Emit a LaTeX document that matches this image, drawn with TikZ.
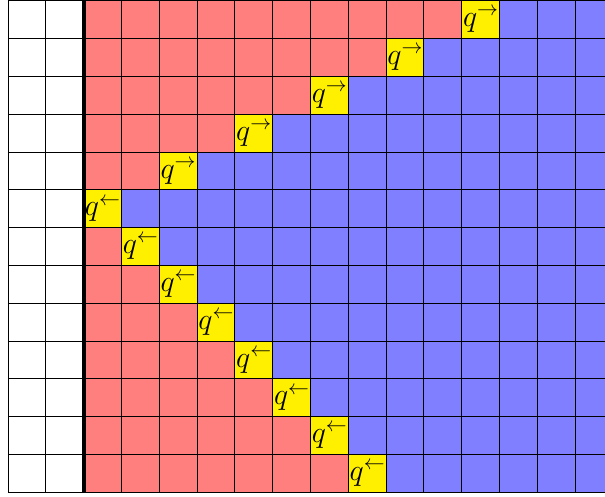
\documentclass[tikz,border=0pt]{standalone}
\usepackage{graphicx}
\definecolor{cellred}{RGB}{255,127,127}
\definecolor{cellblue}{RGB}{127,127,255}
\definecolor{cellyellow}{RGB}{255,240,0}
\newcommand{\headsym}[1]{\scalebox{1.09}{\huge$q^{#1}$}}
\begin{document}
\begin{tikzpicture}[x=1cm,y=1cm,
  lbl/.style={anchor=base west, inner sep=0pt},
  gridline/.style={line width=0.6pt, black},
  headline/.style={line width=3pt, black}]
\useasboundingbox (-0.21,-0.1) rectangle (15.79,13.02);
\clip (-0.21,-0.1) rectangle (15.79,13.02);
\foreach \r/\h/\d in {0/12/\rightarrow,1/10/\rightarrow,2/8/\rightarrow,3/6/\rightarrow,4/4/\rightarrow,
  5/2/\leftarrow,6/3/\leftarrow,7/4/\leftarrow,8/5/\leftarrow,9/6/\leftarrow,10/7/\leftarrow,11/8/\leftarrow,12/9/\leftarrow}{
  \fill[cellred] (2,12-\r) rectangle (\h,13-\r);
  \fill[cellyellow] (\h,12-\r) rectangle (\h+1,13-\r);
  \fill[cellblue] (\h+1,12-\r) rectangle (17,13-\r);
}
\draw[gridline] (0,0) grid (17,13);
\draw[headline] (2,0) -- (2,13);
\foreach \r/\h/\d in {0/12/\rightarrow,1/10/\rightarrow,2/8/\rightarrow,3/6/\rightarrow,4/4/\rightarrow,
  5/2/\leftarrow,6/3/\leftarrow,7/4/\leftarrow,8/5/\leftarrow,9/6/\leftarrow,10/7/\leftarrow,11/8/\leftarrow,12/9/\leftarrow}{
  \node[lbl] (q\r) at (\h+0.03,12.31-\r) {\headsym{\d}};
}
\end{tikzpicture}
\end{document}
